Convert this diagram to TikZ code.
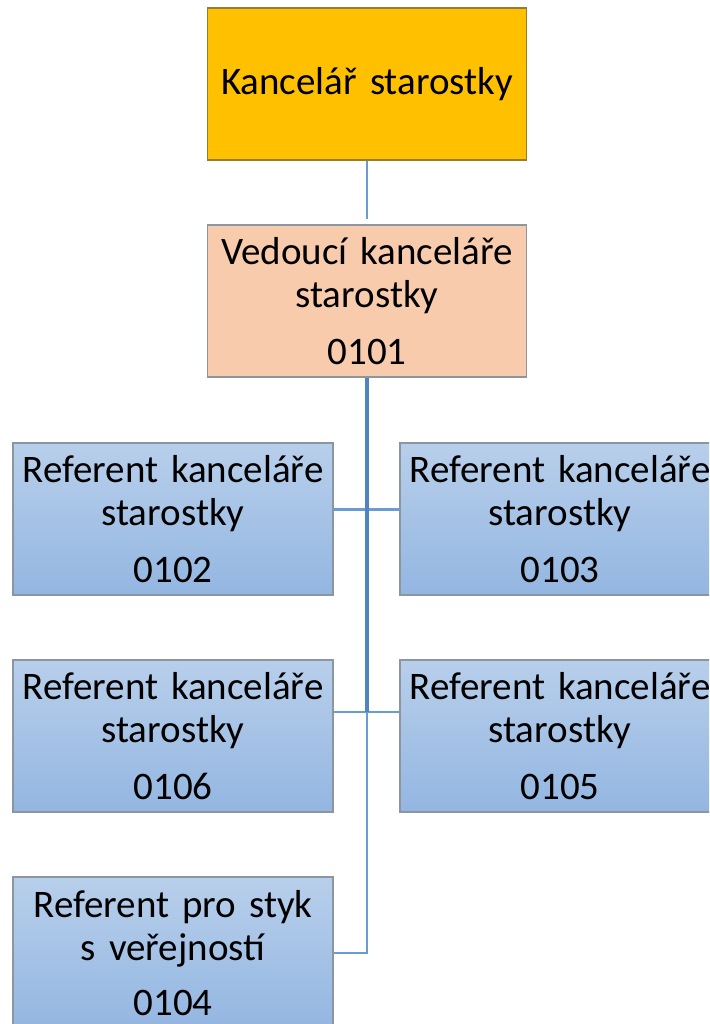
\documentclass[tikz,border=0pt]{standalone}
\usepackage{fontspec}
\setmainfont{Carlito}
\newlength{\du}
\setlength{\du}{1pt}
\definecolor{boxgold}{RGB}{255,192,0}
\definecolor{goldline}{RGB}{150,125,50}
\definecolor{boxpeach}{RGB}{248,203,173}
\definecolor{boxline}{RGB}{140,150,160}
\definecolor{bluetop}{RGB}{184,207,235}
\definecolor{bluebottom}{RGB}{147,182,225}
\definecolor{linkblue}{RGB}{104,156,210}
\definecolor{trunkblue}{RGB}{79,132,195}
\tikzset{
  orgbox/.style={draw=boxline, line width=1.2\du, inner sep=0pt, align=center,
    minimum height=152\du, font={\fontsize{39}{43}\selectfont\spaceskip=6.5\du\relax}},
  topbox/.style={orgbox, draw=goldline, fill=boxgold, minimum width=319\du, text width=316\du},
  leadbox/.style={orgbox, fill=boxpeach, minimum width=319\du, text width=316\du},
  refbox/.style={orgbox, top color=bluetop, bottom color=bluebottom, minimum width=320\du, text width=318\du},
  thinlink/.style={draw=linkblue, line width=2.2\du},
  trunklink/.style={draw=trunkblue, line width=4\du}
}

\begin{document}
\begin{tikzpicture}
\pgftransformxscale{1.000000}
\pgftransformyscale{-1.000000}
\useasboundingbox (0\du,0\du) rectangle (709\du,1024\du);
\clip (0\du,0\du) rectangle (709\du,1024\du);
% boxes
\node[topbox] (kancelar) at (367\du,84\du) {Kancelář starostky};
\node[leadbox] (vedouci) at (367\du,301\du) {Vedoucí kanceláře\\starostky\\[14\du]0101};
\node[refbox] (r0102) at (173\du,519\du) {Referent kanceláře\\starostky\\[14\du]0102};
\node[refbox] (r0103) at (560\du,519\du) {Referent kanceláře\\starostky\\[14\du]0103};
\node[refbox] (r0106) at (173\du,736\du) {Referent kanceláře\\starostky\\[14\du]0106};
\node[refbox] (r0105) at (560\du,736\du) {Referent kanceláře\\starostky\\[14\du]0105};
\node[refbox] (r0104) at (173\du,953\du) {Referent pro styk\\s veřejností\\[12\du]0104};
% junctions on the trunk
\coordinate (j1) at (vedouci.south |- 0,509.5\du);
\coordinate (j2) at (vedouci.south |- 0,712\du);
\coordinate (j3) at (vedouci.south |- 0,953\du);
% connectors
\draw[thinlink, shorten >=5\du] (kancelar.south) -- (vedouci.north);
\draw[thinlink] (r0102.east |- j1) -- (r0103.west |- j1);
\draw[thinlink] (r0106.east |- j2) -- (r0105.west |- j2);
\draw[thinlink] (j2) -- (j3) -- (r0104.east |- j3);
\draw[trunklink] (vedouci.south) -- (j2);
\end{tikzpicture}
\end{document}
